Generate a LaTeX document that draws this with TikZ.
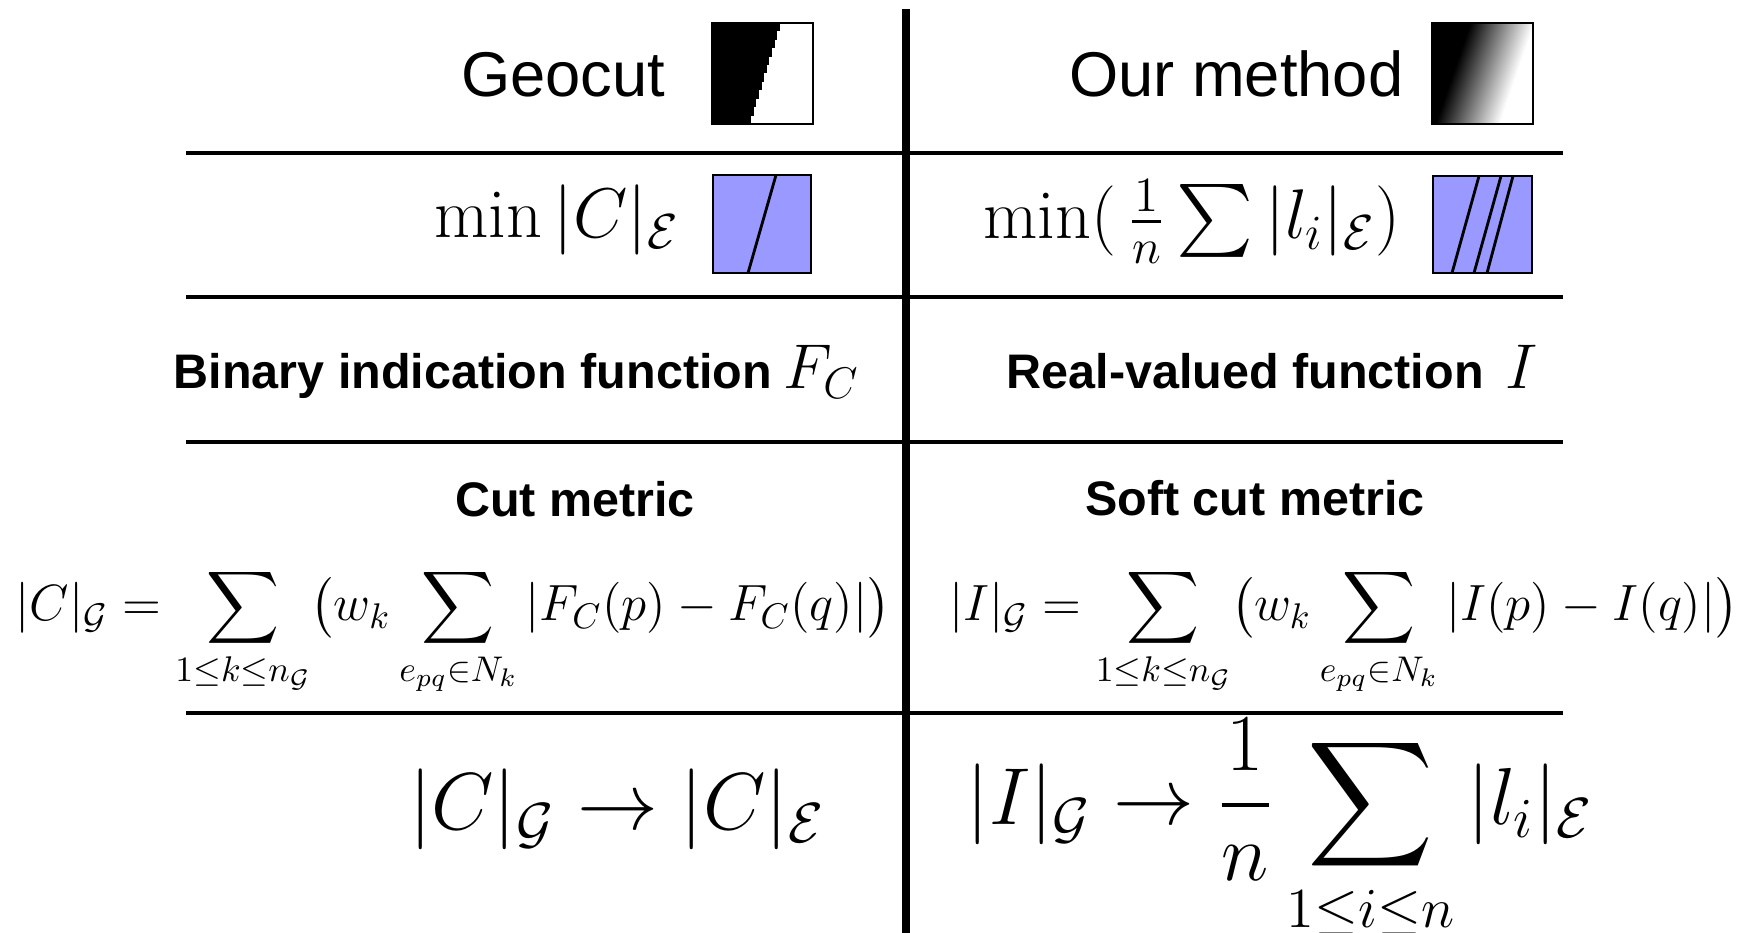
\RequirePackage{fix-cm}
\documentclass[tikz,border=0pt]{standalone}
\usepackage{amsmath}
\usepackage{fontspec}
\newfontfamily\labelfont{Liberation Sans}
\usetikzlibrary{positioning}
\definecolor{CutBlue}{RGB}{153,153,255}
\pgfdeclareverticalshading{softcut}{100bp}{color(0bp)=(black); color(36bp)=(black); color(66bp)=(white); color(100bp)=(white)}
\newcommand{\fsz}[1]{\fontsize{#1}{#1}\selectfont}

\begin{document}
\begin{tikzpicture}[
  rule/.style={line width=0.9pt},
  title/.style={inner sep=0pt, font=\labelfont\fsz{18}},
  tag/.style={inner sep=0pt, font=\labelfont\bfseries\fsz{13.8}},
  formula/.style={inner sep=0pt},
  icon/.style={draw, line width=0.6pt}]
  \useasboundingbox (0,0) rectangle (17.53,9.33);
  % grid of the table
  \draw[line width=2.3pt] (9.06,9.24) -- (9.06,0);
  \foreach \y in {7.80,6.36,4.91,2.20}
    \draw[rule] (1.86,\y) -- (15.63,\y);
  % header row
  \node[title, anchor=base east] (geo) at (6.66,8.36) {Geocut};
  \node[title, anchor=base east] (our) at (14.04,8.36) {Our method};
  \foreach \i in {0,...,11}
    \fill (7.12,{8.09+\i*0.0842}) rectangle ({7.51+\i*0.0264},{8.09+(\i+1)*0.0842});
  \draw[line width=0.6pt] (7.12,8.09) rectangle (8.13,9.10);
  \shade[shading=softcut, shading angle=-109] (14.32,8.09) rectangle (15.33,9.10);
  \draw[line width=0.6pt] (14.32,8.09) rectangle (15.33,9.10);
  % minimised quantities
  \node[formula, font=\fsz{20}, anchor=base east] (mincut) at (6.80,6.95) {$\min|C|_{\mathcal{E}}$};
  \node[formula, font=\fsz{20}, anchor=base east] (minsoft) at (14.01,6.94)
    {$\min(\,\frac{1}{n}\sum|l_i|_{\mathcal{E}})$};
  \filldraw[icon, fill=CutBlue] (7.13,6.60) rectangle (8.11,7.58);
  \draw[line width=0.8pt] (7.76,7.58) -- (7.48,6.60);
  \filldraw[icon, fill=CutBlue] (14.33,6.60) rectangle (15.32,7.57);
  \draw[line width=0.8pt] (14.79,7.57) -- (14.52,6.60)
    (15.01,7.57) -- (14.74,6.60) (15.13,7.57) -- (14.87,6.60);
  % functions
  \node[tag, anchor=base west] (binary) at (1.73,5.44) {Binary indication function};
  \node[formula, font=\fsz{18}, base right=0.1 of binary] (fc) {$F_C$};
  \node[tag, anchor=base west] (real) at (10.06,5.44) {Real-valued function};
  \node[formula, font=\fsz{18}, base right=0.2 of real] (ifun) {$I$};
  % metrics
  \node[tag, anchor=base] (cut) at (5.75,4.16) {Cut metric};
  \node[tag, anchor=base] (soft) at (12.55,4.17) {Soft cut metric};
  \node[formula, font=\fsz{14.5}, anchor=base] (cuteq) at (4.53,3.12)
    {$\displaystyle |C|_{\mathcal{G}} = \sum_{1\leq k\leq n_{\mathcal{G}}} \bigl(w_k \sum_{e_{pq}\in N_k} |F_C(p)-F_C(q)|\bigr)$};
  \node[formula, font=\fsz{14.5}, anchor=base] (softeq) at (13.44,3.12)
    {$\displaystyle |I|_{\mathcal{G}} = \sum_{1\leq k\leq n_{\mathcal{G}}} \bigl(w_k \sum_{e_{pq}\in N_k} |I(p)-I(q)|\bigr)$};
  % limits
  \node[formula, font=\fsz{23}, anchor=base] (cutlim) at (6.17,1.03)
    {$|C|_{\mathcal{G}} \rightarrow |C|_{\mathcal{E}}$};
  \node[formula, font=\fsz{23}, anchor=base] (softlim) at (12.80,1.08)
    {$\displaystyle |I|_{\mathcal{G}} \rightarrow \frac{1}{n}\sum_{1\leq i\leq n} |l_i|_{\mathcal{E}}$};
\end{tikzpicture}
\end{document}
